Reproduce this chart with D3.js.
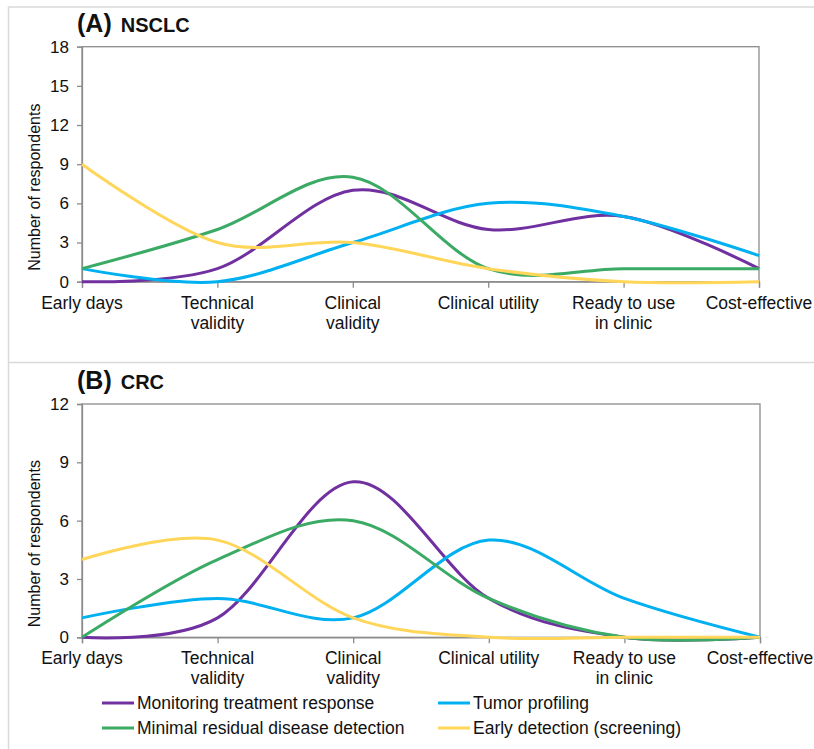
<!DOCTYPE html>
<html>
<head>
<meta charset="utf-8">
<script src="https://cdn.jsdelivr.net/npm/d3@7"></script>
<style>
body { margin: 0; background: #fff; }
text { font-family: "Liberation Sans", Arial, sans-serif; fill: #111; }
</style>
</head>
<body>
<script>
var width = 814;
var height = 749;

// categories (x axis), each split into label lines
var categories = ["Early days", "Technical validity", "Clinical validity", "Clinical utility", "Ready to use in clinic", "Cost-effective"];
var categoryLines = [["Early days"], ["Technical", "validity"], ["Clinical", "validity"], ["Clinical utility"], ["Ready to use", "in clinic"], ["Cost-effective"]];

var seriesNames = ["Monitoring treatment response", "Tumor profiling", "Minimal residual disease detection", "Early detection (screening)"];
var seriesColors = ["#7030a0", "#00b0f0", "#3aaa64", "#ffd659"];

// (A) NSCLC
var nsclcMonitoring = [0, 1, 7, 4, 5, 1];
var nsclcTumor      = [1, 0, 3, 6, 5, 2];
var nsclcMRD        = [1, 4, 8, 1, 1, 1];
var nsclcEarly      = [9, 3, 3, 1, 0, 0];
var nsclcTicks = [0, 3, 6, 9, 12, 15, 18];

// (B) CRC
var crcMonitoring = [0, 1, 8, 2, 0, 0];
var crcTumor      = [1, 2, 1, 5, 2, 0];
var crcMRD        = [0, 4, 6, 2, 0, 0];
var crcEarly      = [4, 5, 1, 0, 0, 0];
var crcTicks = [0, 3, 6, 9, 12];

var svg = d3.select("body")
  .append("svg")
  .attr("width", width)
  .attr("height", height);

// light panel frames
svg.append("path")
  .attr("d", "M8.5,749 L8.5,7 L814,7 M8.5,362.5 L814,362.5")
  .attr("fill", "none")
  .attr("stroke", "#d9d9d9")
  .attr("stroke-width", 1.5);

function drawPanel(p) {
  var x = d3.scalePoint().domain(categories).range([82, p.right]);
  var y = d3.scaleLinear().domain([0, d3.max(p.ticks)]).range([p.bottom, p.top]);
  var g = svg.append("g");

  // plot frame
  g.append("rect")
    .attr("x", 82).attr("y", p.top)
    .attr("width", p.right - 82).attr("height", p.bottom - p.top)
    .attr("fill", "none").attr("stroke", "#8c8c8c").attr("stroke-width", 1.3);

  var yAxis = g.append("g")
    .attr("transform", "translate(82,0)")
    .call(d3.axisLeft(y).tickValues(p.ticks).tickSize(5).tickPadding(8));
  var xAxis = g.append("g")
    .attr("transform", "translate(0," + p.bottom + ")")
    .call(d3.axisBottom(x).tickSize(6).tickFormat(""));
  [yAxis, xAxis].forEach(function(a) {
    a.select(".domain").attr("stroke", "#8c8c8c").attr("stroke-width", 1.3);
    a.selectAll(".tick line").attr("stroke", "#8c8c8c").attr("stroke-width", 1.3);
  });
  yAxis.selectAll(".tick text")
    .style("font-size", "17px").attr("fill", "#111")
    .attr("font-family", "Liberation Sans, Arial, sans-serif");

  // category labels
  categories.forEach(function(c, i) {
    var t = g.append("text")
      .attr("x", x(c))
      .attr("y", p.bottom + 27)
      .attr("text-anchor", "middle")
      .style("font-size", "17.5px");
    categoryLines[i].forEach(function(line, j) {
      t.append("tspan").attr("x", x(c)).attr("dy", j == 0 ? 0 : 20).text(line);
    });
  });

  // y axis title
  g.append("text")
    .attr("transform", "translate(40," + ((p.top + p.bottom) / 2 + 23) + ") rotate(-90)")
    .attr("text-anchor", "middle")
    .style("font-size", "16px")
    .text("Number of respondents");

  // panel title
  var title = g.append("text")
    .attr("x", 77).attr("y", p.top - 15)
    .style("font-weight", "bold");
  title.append("tspan").style("font-size", "25px").text(p.letter);
  title.append("tspan").style("font-size", "20px").attr("dx", 9).text(p.name);

  var line = d3.line()
    .x(function(d, i) { return x(categories[i]); })
    .y(function(d) { return y(d); })
    .curve(d3.curveCardinal.tension(0));

  p.series.forEach(function(s, k) {
    g.append("path")
      .attr("d", line(s))
      .attr("fill", "none")
      .attr("stroke", seriesColors[k])
      .attr("stroke-width", 3);
  });
}

drawPanel({ letter: "(A)", name: "NSCLC", top: 46.7, bottom: 281.7, right: 759,
  ticks: nsclcTicks, series: [nsclcMonitoring, nsclcTumor, nsclcMRD, nsclcEarly] });
drawPanel({ letter: "(B)", name: "CRC", top: 404, bottom: 637.3, right: 760,
  ticks: crcTicks, series: [crcMonitoring, crcTumor, crcMRD, crcEarly] });

// legend, two columns
var legendPos = [[102, 703], [438, 703], [102, 728], [438, 728]];
seriesNames.forEach(function(name, k) {
  var lx = legendPos[k][0], ly = legendPos[k][1];
  svg.append("line")
    .attr("x1", lx).attr("x2", lx + 32)
    .attr("y1", ly).attr("y2", ly)
    .attr("stroke", seriesColors[k]).attr("stroke-width", 3);
  svg.append("text")
    .attr("x", lx + 35).attr("y", ly + 6)
    .style("font-size", "17.5px")
    .text(name);
});
</script>
</body>
</html>
